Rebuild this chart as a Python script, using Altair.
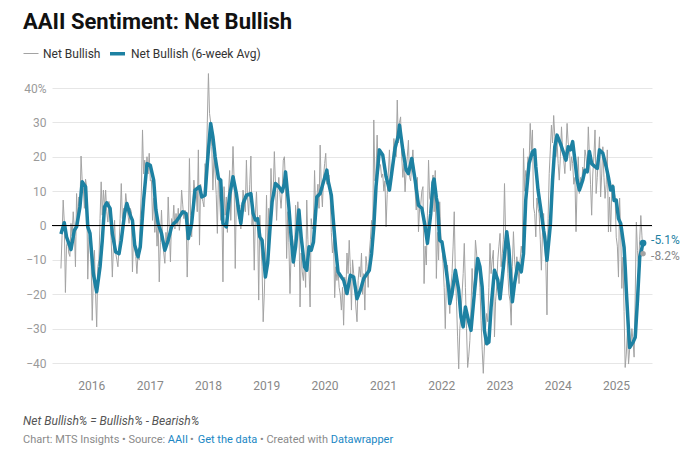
import altair as alt
import pandas as pd

START = pd.Timestamp("2015-06-25")  # first weekly AAII survey shown

# weekly Net Bullish (bullish% - bearish%)
net_bullish = [
    -12.5, -3, 7.4, 1, -19.5, -6, -4.3, -8, -9, 0.6,
    -3, 4, -1, -12, 9.3, 1, 8.3, 5, 20.2, 13.2,
    11, 5, 13.5, 11.3, -15.6, -4, -1.4, -10, -27.6, -15,
    -7.2, -20, -29.5, -12, -10, 2, 12.7, 3, 10.3, 5,
    10.3, 4, 1, 7, 2, -4.3, -15, -6, 1.5, -8,
    -10, -12, -6, 2, 12.2, 2, 5, 3.5, 9.3, 6,
    3, 0.6, 5, 4, -13.5, -3, -6.2, -9, -14, -8,
    -10, 2, 10, 27.8, 15, 19, 14, 20, 15, 21,
    13, 13.2, 1.5, 8, -2, 3, -6, 1, -16.4, -5,
    4.5, -4, -8, -11, -2, -6, 8.3, -1, -10.6, 2,
    0, 5.9, -1, 3.5, 0, 5, -1.4, 2, 10.3, 6,
    2, 4.5, 3, -15, -2, 19.5, 3, -3.3, 6, 13.2,
    9, 10.3, 4, 22, -5.7, 12, 8.3, 7, 5.4, 18,
    15, 30, 44.2, 32.6, 30, 23, 10.3, 20.5, 15, 9,
    -2.3, 16, 8, 1.5, 5, -16.4, 11.3, 3, 8.3, -2,
    10, 16, 1.5, 12, 23, 13.2, -12.5, 9, 5.4, 2,
    6, -1, 4, 10.3, 7, 4, 19, 8, 3, 12,
    20.2, 0, 4, -13, 3, 9.8, 1, -21.7, 3, -5,
    -12, -28, -20, -8, 8.8, -7, 5, 1, 16.6, 7,
    10, 21.5, 12, 1.5, 10, 14, 9, 5, 10, 19,
    20, 12, -9.6, 4, -5, -19.8, -8, -3, -6, -12,
    5.9, 0, 6.9, 2, -23.7, -8, -13.5, -16, -10, -18,
    7.4, -4, -12, -23.7, 2, -1, 0, 16, 4, 8,
    12, 5, 23.4, 11, 5.4, 14, 18, 21, 12, 15,
    14.7, 8, -2, -8, -4, -21, -12, -16, -13, -18,
    -20, -24.6, -18, -29, -15, -20, -8, -14, -4.3, -12,
    -24.6, -10, -14, -18, -24, -28, -16, -12, -15, -8,
    -20, -14, -24.6, -9, -12, -18, -8, -4, 1.5, -6,
    30.7, 13, 15, 26.3, 15, 18, 17.6, 14, 15, 10,
    13, -0.4, 9, 15, 22, 12, 15, 18, 25.3, 22,
    20, 36.5, 24, 30, 31.6, 20, 14, 18, 9.8, 16,
    20, 24.8, 14, 13, 18, 22, 15, 10, 4.5, 14,
    -1.8, 5, 6, 10, 11.3, -16.9, -6, -11.5, 3, 19,
    8, 7, 12, 14.7, 4, 16, -15.4, -2, -10, 6.9,
    -3, -6, -11, -18, -30, -16, -11.5, -20, -25.6, -18,
    -14, -6, 4, -14, -22, -32.4, -41.7, -30, -25.6, -20,
    -14, -5.2, -18, -30, -41.3, -38, -33.4, -24, -12.5, -20,
    -16, -4.3, -8, -13, -10, -18, -27.6, -36, -43, -35.3,
    -30, -25.6, -28, -18, -5.2, -14, -10, -7.2, -32.4, -22,
    -17.9, -10, -6, -2.3, -12, -8.2, -4, 12.2, -3, -5.2,
    -14, -20, -22, -29, -12, -1.8, -10, -14, -9.1, -12,
    -16.9, -10, -6, -8.2, 22.4, 10, 16, 14.2, 20, 18,
    29.7, 22, 27.8, 5.4, 3.5, -3.3, 8, 5, 3.5, -4,
    -13, -2, 3.5, -6, -11, -26, 2, 15.1, 22, 29.2,
    24, 32, 26, 20, 24.8, 18, 13.2, 20, 28.7, 22,
    19, 15.1, 22, 29.7, 24, 22.9, 16, 20, 18, 12,
    14, -1.8, 12, 20, 9.3, 14, 11, 17, 14, 22,
    20, 16, 28.7, 20, 12, 3, 15, 20, 27.8, 9.3,
    14, 20, 25.8, 8.3, 15, 22.9, 14, 7.9, 12, 22,
    -1.9, 8.3, -1.8, 10.3, 12, 10, 8.3, -3.4, -6, -15,
    8, -2, -18.3, -9.2, -25, -41.3, -37.4, -30.6, -40.3, -36,
    -35.4, -30, -33.5, -38.3, -20, 1, -7.3, -12, -4, 2.9,
    -3, -8.2,
]

# 6-week average, read at the weeks (counted from START) where it turns
avg_week = [
    0, 3, 5, 9, 12, 14, 17, 19, 22, 24, 26, 29, 32, 35, 37, 39, 41, 44, 46, 49,
    52, 54, 57, 59, 62, 64, 66, 69, 71, 74, 77, 80, 83, 85, 87, 90, 93, 96, 99, 101,
    103, 106, 109, 112, 114, 117, 120, 122, 124, 126, 129, 131, 134, 136, 138, 141, 143, 145, 148, 151,
    154, 157, 159, 161, 163, 166, 170, 172, 174, 176, 178, 180, 183, 185, 187, 189, 192, 195, 198, 200,
    201, 204, 206, 208, 210, 213, 215, 218, 220, 222, 224, 226, 229, 232, 235, 238, 239, 242, 244, 246,
    248, 251, 253, 256, 259, 262, 265, 268, 271, 274, 276, 278, 280, 282, 285, 288, 291, 294, 296, 299,
    302, 303, 306, 309, 311, 314, 317, 320, 323, 326, 328, 331, 333, 334, 336, 337, 339, 341, 344, 347,
    348, 350, 353, 356, 358, 360, 362, 365, 367, 370, 373, 375, 377, 379, 381, 383, 385, 388, 391, 393,
    396, 399, 401, 404, 406, 409, 412, 414, 416, 419, 422, 424, 425, 427, 430, 432, 433, 435, 438, 440,
    442, 444, 447, 450, 452, 454, 456, 458, 460, 462, 464, 467, 469, 471, 473, 475, 478, 480, 482, 485,
    488, 490, 492, 494, 495, 497, 499, 501, 504, 505, 506, 508, 509, 512, 514, 516, 518, 521,
]
avg_value = [
    -2.5, 0.8, -3.3, -7, -1.4, -0.4, 5.4, 12.7, 11.3, -0.4, -2.3, -14, -19.3, -12, -4.3, 5.4, 6.6, 5, -2.3, -7.7,
    -8.2, -4.3, 3.5, 6.4, 3, 1.5, -5.7, -9.1, -6.2, 7.4, 18, 17.5, 13.2, 4.5, 0.6, -2.3, -7.2, -4.3, -0.4, 0.6,
    1.1, 2.5, 4, 3.5, -3.8, 0.6, 10.3, 10.8, 11.3, 8.3, 8.8, 18, 29.7, 25.8, 20, 13.7, 13.2, 0.6, -0.4, 8.8,
    14.2, 9.3, 4.5, 0.6, 6.4, 8.8, 9.3, 3.5, 1.6, 2, -3.3, -4.3, -15, -11, -1.4, 6.9, 12.2, 11.3, 9.8, 12.2,
    15.6, 5.4, -3.3, -10.6, -6.2, 4.5, -3.3, -12, -13, -6.2, -7.2, -4.8, 8.3, 9.3, 12.7, 16.1, 13.2, 8.8, 0.6, -7.2,
    -13.5, -15, -15.9, -19.8, -14.5, -15, -21.3, -18.8, -15.4, -14, -13, -8.2, -0.4, 11.3, 22, 20.5, 14.2, 10.3, 15.1, 22.4,
    26.3, 29.2, 22, 16.1, 15.1, 19.5, 13.2, 5.9, 5, -0.4, -5.2, 3.5, 12.5, 13.5, 8, 6.4, -4.3, -4.8, -11, -18.3,
    -22.7, -19.8, -13, -18.8, -26.6, -29.5, -23.7, -28, -30.5, -19.8, -9.6, -12, -17.9, -30.5, -34.4, -33.9, -23.7, -13, -15.9, -21.3,
    -12, -1.8, -7.2, -22.2, -16.9, -11, -13.5, -8.2, 7.4, 18, 21.5, 22, 17.1, 10.3, 3.5, -1.4, -3.3, -10.1, 0.1, 13.2,
    22.9, 26.3, 23.9, 21, 19, 22.9, 22, 24.4, 19, 13.2, 10.3, 13.2, 16.1, 15.6, 21.5, 18, 17.1, 16.6, 22, 21,
    17.1, 14, 10.3, 11.3, 7.3, 7.4, 2, 0.6, -6.3, -12, -18.9, -30.6, -35.5, -34, -32.5, -21.8, -9.2, -5.1,
]

SERIES = ["Net Bullish", "Net Bullish (6-week Avg)"]
GREY = "#a3a3a3"
BLUE = "#1d81a2"
LINK = "#2087c4"


def week_date(i):
    return (START + pd.Timedelta(weeks=i)).strftime("%Y-%m-%d")


raw = pd.DataFrame({
    "date": [week_date(i) for i in range(len(net_bullish))],
    "value": net_bullish,
    "series": SERIES[0],
})
avg = pd.DataFrame({
    "date": [week_date(i) for i in avg_week],
    "value": avg_value,
    "series": SERIES[1],
})
lines_df = pd.concat([raw, avg], ignore_index=True)

ends = pd.DataFrame({
    "date": [raw["date"].iloc[-1], avg["date"].iloc[-1]],
    "value": [net_bullish[-1], avg_value[-1]],
    "series": SERIES,
})
ends["label"] = [f"{v:.1f}%" for v in ends["value"]]

x_scale = alt.Scale(
    type="utc",
    domain=[
        alt.DateTime(year=2015, month=4, date=30, utc=True),
        alt.DateTime(year=2025, month=8, date=14, utc=True),
    ],
)
x_axis = alt.Axis(
    values=[alt.DateTime(year=y, month=1, date=1, utc=True) for y in range(2016, 2026)],
    format="%Y",
    formatType="utc",
    title=None,
    ticks=False,
    domain=False,
    grid=False,
    labelColor="#888888",
    labelFontSize=12,
    labelPadding=17,
)
y_scale = alt.Scale(domain=[-40, 40], nice=False)
y_axis = alt.Axis(
    values=list(range(-40, 41, 10)),
    labelExpr="datum.value == 40 ? '40%' : format(datum.value, 'd')",
    labelOverlap=False,
    title=None,
    ticks=False,
    domain=False,
    gridColor="#e6e6e6",
    labelColor="#9a9a9a",
    labelFontSize=12,
    labelPadding=6,
)
legend = alt.Legend(
    title=None,
    orient="none",
    legendX=-29,
    legendY=-44,
    direction="horizontal",
    symbolType="stroke",
    symbolSize=225,
    labelFontSize=12,
    labelColor="#333333",
    labelOffset=4,
    columnPadding=2,
)

lines = alt.Chart(lines_df).mark_line(strokeJoin="round").encode(
    x=alt.X("date:T", scale=x_scale, axis=x_axis),
    y=alt.Y("value:Q", scale=y_scale, axis=y_axis),
    color=alt.Color("series:N", scale=alt.Scale(domain=SERIES, range=[GREY, BLUE]), legend=legend),
    strokeWidth=alt.StrokeWidth("series:N", scale=alt.Scale(domain=SERIES, range=[1, 3.5]), legend=legend),
)

zero = alt.Chart(pd.DataFrame({"y": [0]})).mark_rule(color="#000000", strokeWidth=1).encode(
    y=alt.Y("y:Q", scale=y_scale, axis=y_axis),
)


def end_marks(series, color, label_color, dy, size):
    base = alt.Chart(ends).transform_filter(alt.datum.series == series).encode(
        x=alt.X("date:T", scale=x_scale, axis=x_axis),
        y=alt.Y("value:Q", scale=y_scale, axis=y_axis),
    )
    dot = base.mark_circle(opacity=1, size=size, color=color)
    label = base.mark_text(
        align="left", baseline="middle", dx=8, dy=dy, fontSize=12, color=label_color
    ).encode(text="label:N")
    return dot + label


def note(text, x, y, **style):
    return alt.Chart(pd.DataFrame({"t": [text]})).mark_text(
        align="left", baseline="middle", **style
    ).encode(x=alt.value(x), y=alt.value(y), text="t:N")


title = note("AAII Sentiment: Net Bullish", -29, -66, fontSize=22, fontWeight="bold", color="#111111")
formula = note("Net Bullish% = Bullish% - Bearish%", -29, 333, fontSize=12, fontStyle="italic", color="#555555")
footer = [
    note("Chart: MTS Insights • Source:", -29, 351.6, fontSize=11, color="#8a8a8a"),
    note("AAII", 115.7, 351.6, fontSize=11, color=LINK),
    note("•", 138, 351.6, fontSize=11, color="#8a8a8a"),
    note("Get the data", 145.7, 351.6, fontSize=11, color=LINK),
    note("• Created with", 208, 351.6, fontSize=11, color="#8a8a8a"),
    note("Datawrapper", 278.7, 351.6, fontSize=11, color=LINK),
]

chart = (
    alt.layer(
        lines,
        zero,
        end_marks(SERIES[0], GREY, "#888888", 2, 30),
        end_marks(SERIES[1], BLUE, BLUE, -3, 45),
        title,
        formula,
        *footer,
    )
    .properties(
        width=600,
        height=275,
        autosize=alt.AutoSizeParams(type="none"),
        padding={"left": 44, "top": 80, "right": 36, "bottom": 92},
    )
    .configure(font="Roboto")
    .configure_view(strokeWidth=0)
)

chart.save("out.html", embed_options={"renderer": "svg", "actions": False})
